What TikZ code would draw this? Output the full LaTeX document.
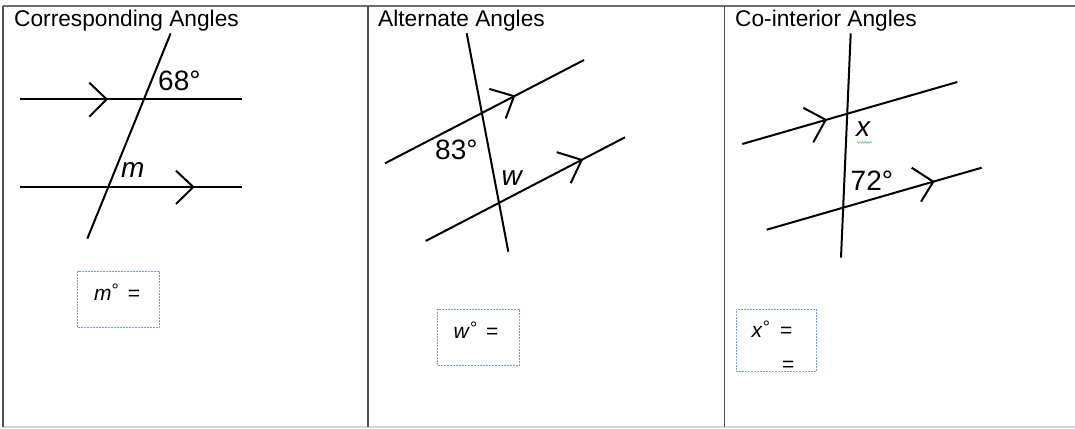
\documentclass[tikz,border=0pt]{standalone}
\usepackage{fontspec}
\setmainfont{Liberation Sans}
\usetikzlibrary{decorations.pathmorphing}
\usepackage{xcolor}
\definecolor{gridgray}{HTML}{6E6E6E}
\definecolor{griddark}{HTML}{505050}
\definecolor{gridlight}{HTML}{D6D6D6}
\definecolor{boxblue}{HTML}{4F86D0}
\definecolor{spellgreen}{HTML}{6CC26C}
\newcommand{\supdeg}{\raisebox{4pt}{\fontsize{18}{18}\selectfont °}}

\begin{document}
\begin{tikzpicture}[
  x=1pt, y=-1pt,
  geoline/.style={line width=2pt},
  chevron/.style={line width=2pt, line join=miter},
  paneltitle/.style={
    font=\fontsize{22.7}{26}\selectfont,
    anchor=base west,
    inner sep=0pt
  },
  anglelabel/.style={
    font=\fontsize{28}{32}\selectfont,
    anchor=base west,
    inner sep=0pt
  },
  answerbox/.style={
    draw=boxblue!80,
    line width=1pt,
    dash pattern=on 2pt off 1pt,
    anchor=north west,
    inner sep=0pt
  },
  answertext/.style={
    font=\fontsize{21}{24}\selectfont,
    anchor=base west,
    inner sep=0pt
  }
]
  \useasboundingbox (0,0) rectangle (1075,428);

  % --- TABLE FRAME ---
  \draw[draw=gridgray, line width=1.4pt] (3,6) -- (1075,6);
  \draw[draw=gridlight, line width=1.4pt] (3,427) -- (1075,427);
  \draw[draw=griddark, line width=1.4pt] (3,6) -- (3,427);
  \draw[draw=griddark, line width=1.4pt] (368,6) -- (368,427);
  \draw[draw=griddark, line width=1.4pt] (724.5,6) -- (724.5,427);

  % --- PANEL 1: Corresponding Angles ---
  \node[paneltitle] (corrtitle) at (14,27) {Corresponding Angles};
  \coordinate (corrA1) at (20,99.3);
  \coordinate (corrA2) at (242,99.3);
  \coordinate (corrB1) at (20,187);
  \coordinate (corrB2) at (242,187);
  \coordinate (corrT1) at (170.7,33.3);
  \coordinate (corrT2) at (87.3,238.7);
  \draw[geoline] (corrA1) -- (corrA2);
  \draw[geoline] (corrB1) -- (corrB2);
  \draw[geoline] (corrT1) -- (corrT2);
  \coordinate (corrChevA) at (106.7,99.3);
  \coordinate (corrChevB) at (193.3,187);
  \draw[chevron] (corrChevA) ++(-17.4,-16.6) -- (corrChevA) -- ++(-17.4,17.4);
  \draw[chevron] (corrChevB) ++(-17.3,-16.3) -- (corrChevB) -- ++(-17.3,17);
  \node[anglelabel] (corrgiven) at (158,90.7) {68°};
  \node[anglelabel] (corrunknown) at (121,177) {\textit{m}};
  \node[answerbox, minimum width=81.4pt, minimum height=56.6pt] (corrbox) at (77.3,270.7) {};
  \node[answertext] (corrans) at (94,300) {\textit{m}\supdeg\hspace{9pt}=};

  % --- PANEL 2: Alternate Angles ---
  \node[paneltitle] (alttitle) at (378,27) {Alternate Angles};
  \coordinate (altA1) at (385,163.3);
  \coordinate (altA2) at (584,60);
  \coordinate (altB1) at (425.7,241);
  \coordinate (altB2) at (625,137.3);
  \coordinate (altT1) at (466.7,33.3);
  \coordinate (altT2) at (508.3,251.7);
  \draw[geoline] (altA1) -- (altA2);
  \draw[geoline] (altB1) -- (altB2);
  \draw[geoline] (altT1) -- (altT2);
  \coordinate (altChevA) at (514,96.2);
  \coordinate (altChevB) at (581.7,159.9);
  \draw[chevron] (altChevA) ++(-24.7,-7.3) -- (altChevA) -- ++(-8.3,22.3);
  \draw[chevron] (altChevB) ++(-25,-7.7) -- (altChevB) -- ++(-11,23.3);
  \node[anglelabel] (altgiven) at (435,159.3) {83°};
  \node[anglelabel] (altunknown) at (501.5,185) {\textit{w}};
  \node[answerbox, minimum width=81.4pt, minimum height=56.6pt] (altbox) at (437.3,308.7) {};
  \node[answertext] (altans) at (453.5,338.3) {\textit{w}\supdeg\hspace{9pt}=};

  % --- PANEL 3: Co-interior Angles ---
  \node[paneltitle] (cointitle) at (735,27) {Co-interior Angles};
  \coordinate (coinA1) at (742.3,144);
  \coordinate (coinA2) at (957.3,82);
  \coordinate (coinB1) at (766.7,229.7);
  \coordinate (coinB2) at (981.7,167.7);
  \coordinate (coinT1) at (850.7,33.3);
  \coordinate (coinT2) at (841,257.7);
  \draw[geoline] (coinA1) -- (coinA2);
  \draw[geoline] (coinB1) -- (coinB2);
  \draw[geoline] (coinT1) -- (coinT2);
  \coordinate (coinChevA) at (825.7,119.8);
  \coordinate (coinChevB) at (933.3,181.7);
  \draw[chevron] (coinChevA) ++(-22.4,-12) -- (coinChevA) -- ++(-12.4,22.5);
  \draw[chevron] (coinChevB) ++(-21.6,-14) -- (coinChevB) -- ++(-12.3,20);
  \node[anglelabel] (coinunknown) at (856,136.7) {\textit{x}};
  \draw[spellgreen, line width=0.6pt, decorate,
        decoration={snake, amplitude=0.8pt, segment length=2.6pt}]
    (856.5,142.5) -- (872,142.5);
  \node[anglelabel] (coingiven) at (850.5,190) {72°};
  \node[answerbox, minimum width=80.3pt, minimum height=62.3pt] (coinbox) at (735.7,308.7) {};
  \node[answertext] (coinans) at (751.5,337.3) {\textit{x}\supdeg\hspace{10pt}=};
  \node[answertext] (coinans2) at (782,371.3) {=};

\end{tikzpicture}
\end{document}
